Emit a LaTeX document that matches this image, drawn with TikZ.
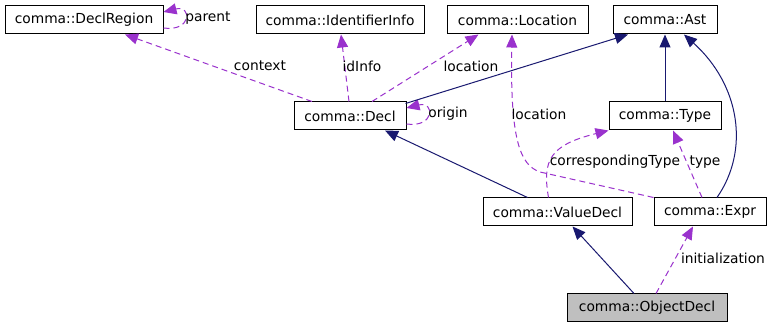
\documentclass[tikz,border=0pt]{standalone}
\usepackage{fontspec}
\setmainfont{DejaVu Sans}
\usetikzlibrary{arrows.meta}
\definecolor{edgeblue}{HTML}{191970}
\definecolor{edgepurple}{HTML}{9A32CD}
\definecolor{boxgray}{HTML}{BFBFBF}
\begin{document}
\begin{tikzpicture}[x=1pt,y=-1pt,
  font=\fontsize{13.8}{16}\selectfont,
  cls/.style={draw=black, line width=1pt, fill=white, inner sep=0pt, minimum height=28pt},
  inh/.style={draw=edgeblue, line width=1pt, -{Triangle[length=13pt,width=11pt]}, color=edgeblue},
  usage/.style={draw=edgepurple, line width=1pt, dash pattern=on 6pt off 4pt, -{Triangle[length=13pt,width=11pt]}, color=edgepurple},
  lbl/.style={inner sep=0pt, text=black}]
\useasboundingbox[fill=white] (0,0) rectangle (772,328);

\node[cls, minimum width=158pt] (dr) at (84,20) {comma::DeclRegion};
\node[cls, minimum width=168pt] (ii) at (340,20) {comma::IdentifierInfo};
\node[cls, minimum width=141pt] (loc) at (517.5,20) {comma::Location};
\node[cls, minimum width=104pt] (ast) at (665,20) {comma::Ast};
\node[cls, minimum width=112pt] (decl) at (350,116) {comma::Decl};
\node[cls, minimum width=112pt] (type) at (665,116) {comma::Type};
\node[cls, minimum width=149pt] (vd) at (557.5,212) {comma::ValueDecl};
\node[cls, minimum width=112pt] (expr) at (710,212) {comma::Expr};
\node[cls, minimum width=160pt, fill=boxgray] (od) at (647,308) {comma::ObjectDecl};

% self loops
\draw[usage] ([yshift=-8pt]dr.east) .. controls (192,32) and (192,5) .. ([yshift=8pt]dr.east);
\node[lbl] (lparent) at (208,18) {parent};
\draw[usage] ([yshift=-8pt]decl.east) .. controls (435,128) and (435,101) .. ([yshift=8pt]decl.east);
\node[lbl] (lorigin) at (448,114) {origin};

% usage edges from Decl
\draw[usage] ([xshift=-38pt]decl.north) -- ([xshift=41pt]dr.south);
\node[lbl] (lcontext) at (260,66) {context};
\draw[usage] ([xshift=-1pt]decl.north) -- ([xshift=1pt]ii.south);
\node[lbl] (lidinfo) at (362,66) {idInfo};
\draw[usage] ([xshift=22pt]decl.north) -- ([xshift=-39pt]loc.south);
\node[lbl] (lloc1) at (471,66) {location};

% inheritance
\draw[inh] ([xshift=-1pt,yshift=-2pt]decl.north east) -- ([xshift=-37pt]ast.south);
\draw[inh] (type.north) -- (ast.south);
\draw[inh] ([xshift=7pt]expr.north) .. controls (750,150) and (740,85) .. ([xshift=19pt]ast.south);
\draw[inh] ([xshift=-30pt]vd.north) -- ([xshift=35pt]decl.south);
\draw[inh] ([xshift=-13pt]od.north) -- ([xshift=15pt]vd.south);

% usage edges
\draw[usage] (expr.north west) -- (540,172) .. controls (520,165) and (510,140) .. ([xshift=-5.5pt]loc.south);
\node[lbl] (lloc2) at (539,114) {location};
\draw[usage] ([xshift=-9pt]vd.north) .. controls (542,160) and (550,145) .. (type.south west);
\node[lbl] (lct) at (615,162) {correspondingType};
\draw[usage] ([xshift=-8pt]expr.north) -- ([xshift=8pt]type.south);
\node[lbl] (ltype) at (705,162) {type};
\draw[usage] ([xshift=9pt]od.north) -- ([xshift=-17pt]expr.south);
\node[lbl] (linit) at (723,258) {initialization};
\end{tikzpicture}
\end{document}
